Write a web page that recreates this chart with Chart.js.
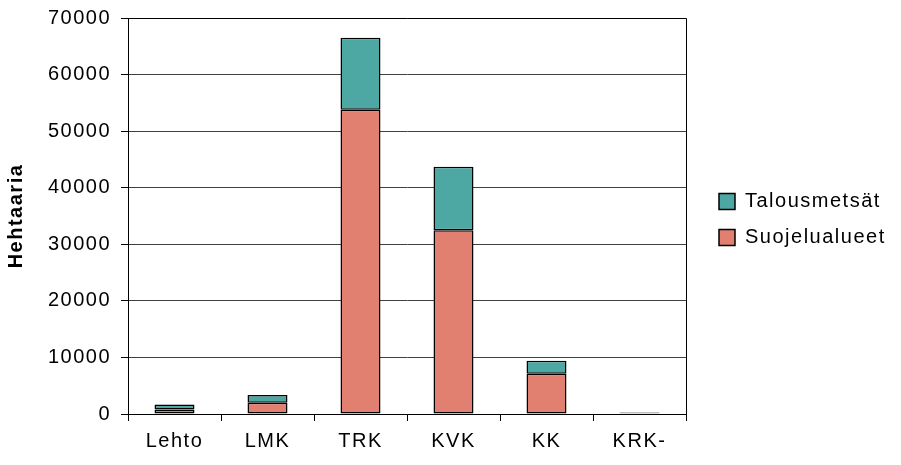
<!DOCTYPE html>
<html><head><meta charset="utf-8">
<script src="https://cdn.jsdelivr.net/npm/chart.js@4"></script>
<style>html,body{margin:0;padding:0;background:#fff}#wrap{width:901px;height:465px}</style>
</head><body><div id="wrap"><canvas id="c" width="901" height="465"></canvas></div>
<script>
const categories = ['Lehto', 'LMK', 'TRK', 'KVK', 'KK', 'KRK-'];
const suojelualueet = [800, 2000, 53800, 32500, 7100, 150];
const talousmetsat = [900, 1350, 12700, 11200, 2300, 100];
const seriesNames = ['Suojelualueet', 'Talousmetsät'];
const yAxisTitle = 'Hehtaaria';
const yMin = 0, yMax = 70000, yStep = 10000;

Chart.defaults.font.family = "'Liberation Sans', Arial, sans-serif";
Chart.defaults.font.size = 20;
Chart.defaults.color = '#000';

const spacingPlugin = {
  id: 'spacing',
  beforeUpdate(chart) { chart.ctx.letterSpacing = '1.5px'; },
  beforeDraw(chart) { chart.ctx.letterSpacing = '1.5px'; }
};
const legendPlugin = {
  id: 'legendFix',
  beforeUpdate(chart) {
    const lg = chart.legend;
    if (lg && !lg._patched) {
      const fit = lg.fit;
      lg.fit = function () { fit.call(this); this.width = 215; };
      lg._patched = true;
    }
  },
  afterLayout(chart) {
    const lg = chart.legend;
    lg.left += 17; lg.right += 17;
    lg.top -= 22; lg.bottom -= 22;
  }
};
const borderPlugin = {
  id: 'frame',
  afterDatasetsDraw(chart) {
    const a = chart.chartArea, ctx = chart.ctx;
    ctx.save();
    ctx.strokeStyle = '#000';
    ctx.lineWidth = 1;
    ctx.beginPath();
    const r = Math.round(a.right) + 0.5, t = Math.round(a.top) + 0.5, l = Math.round(a.left) + 0.5;
    ctx.moveTo(l, t); ctx.lineTo(r, t); ctx.lineTo(r, a.bottom);
    ctx.stroke();
    ctx.restore();
  }
};

new Chart(document.getElementById('c'), {
  type: 'bar',
  data: {
    labels: categories,
    datasets: [
      { label: seriesNames[0], data: suojelualueet, backgroundColor: '#E17F70', borderColor: '#000', borderWidth: 1.5, borderSkipped: false, inflateAmount: 0 },
      { label: seriesNames[1], data: talousmetsat, backgroundColor: '#4DA8A3', borderColor: '#000', borderWidth: 1.5, borderSkipped: false, inflateAmount: 0 }
    ]
  },
  options: {
    responsive: false,
    animation: false,
    layout: { padding: { top: 18, left: 0, right: 0, bottom: 0 } },
    datasets: { bar: { categoryPercentage: 1, barPercentage: 0.43 } },
    plugins: {
      legend: {
        position: 'right',
        reverse: true,
        labels: { boxWidth: 16, boxHeight: 16, padding: 16, color: '#000', font: { size: 20 } }
      },
      tooltip: { enabled: false }
    },
    scales: {
      x: {
        stacked: true,
        grid: { display: true, drawOnChartArea: false, drawTicks: true, tickLength: 7, offset: true, color: '#000' },
        border: { color: '#000', width: 1 },
        ticks: { padding: 8, color: '#000', font: { size: 20 }, maxRotation: 0 },
        afterFit(s) { s.height = 51; }
      },
      y: {
        stacked: true,
        min: yMin, max: yMax,
        grid: { color: '#404040', tickColor: '#000', tickLength: 7 },
        border: { color: '#000', width: 1 },
        ticks: { stepSize: yStep, padding: 10, color: '#000', font: { size: 20 }, callback: (v) => String(v) },
        title: { display: true, text: yAxisTitle, color: '#000', font: { size: 20, weight: 'bold' }, padding: { top: 4, bottom: 0 } },
        afterFit(s) { s.width = 128; s.paddingTop = 0; s.paddingBottom = 0; }
      }
    }
  },
  plugins: [spacingPlugin, legendPlugin, borderPlugin]
});
</script>
</body></html>
